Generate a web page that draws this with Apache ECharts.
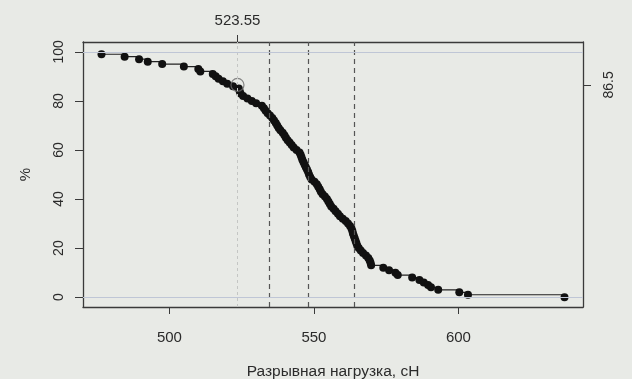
<!DOCTYPE html>
<html lang="ru">
<head>
<meta charset="UTF-8">
<title>Разрывная нагрузка</title>
<script src="https://cdn.jsdelivr.net/npm/echarts@6/dist/echarts.min.js"></script>
<style>
  html, body { margin: 0; padding: 0; background: #e8eae6; }
</style>
</head>
<body>
<div id="main" style="width:632px;height:379px;"></div>
<script type="text/javascript">
// нагрузка (сН) для каждой точки
var loadValues = [
  476.5, 484.5, 489.5, 492.5, 497.5, 505.0, 510.0, 510.7, 515.0, 516.0,
  517.0, 518.5, 520.0, 522.0, 524.0, 524.3, 524.6, 525.5, 527.0, 528.5,
  530.0, 532.0, 532.7, 533.3, 534.0, 534.8, 535.6, 536.2, 536.8, 537.3,
  537.8, 538.4, 539.2, 539.8, 540.3, 540.9, 541.6, 542.3, 543.0, 544.0,
  545.0, 545.4, 545.7, 546.0, 546.4, 546.8, 547.2, 547.6, 548.0, 548.3,
  548.7, 549.2, 550.2, 551.0, 551.5, 552.0, 552.4, 553.0, 553.8, 554.5,
  555.0, 555.5, 556.0, 556.8, 557.5, 558.3, 559.0, 560.0, 561.0, 561.8,
  562.5, 563.0, 563.3, 563.5, 563.8, 564.1, 564.4, 564.7, 565.0, 565.5,
  566.2, 567.0, 568.0, 568.8, 569.3, 569.6, 569.8, 574.0, 576.0, 578.2,
  579.0, 584.0, 586.5, 588.0, 589.5, 590.5, 593.0, 600.3, 603.3, 636.7
];
// % образцов
var pctValues = [
  99, 98, 97, 96, 95, 94, 93, 92, 91, 90,
  89, 88, 87, 86, 85, 84, 83, 82, 81, 80,
  79, 78, 77, 76, 75, 74, 73, 72, 71, 70,
  69, 68, 67, 66, 65, 64, 63, 62, 61, 60,
  59, 58, 57, 56, 55, 54, 53, 52, 51, 50,
  49, 48, 47, 46, 45, 44, 43, 42, 41, 40,
  39, 38, 37, 36, 35, 34, 33, 32, 31, 30,
  29, 28, 27, 26, 25, 24, 23, 22, 21, 20,
  19, 18, 17, 16, 15, 14, 13, 12, 11, 10,
  9, 8, 7, 6, 5, 4, 3, 2, 1, 0
];
var xTicks = [500, 550, 600];
var yTicks = [0, 20, 40, 60, 80, 100];
var markX = [523.55];       // отмеченная точка (верхняя ось)
var markY = [86.5];         // правая ось
var dashX = [534.6, 548.2, 564.0];   // квартили

var myChart = echarts.init(document.getElementById('main'));

var pts = [];
for (var i = 0; i < loadValues.length; i++) {
  pts.push([loadValues[i], pctValues[i]]);
}

var txt = '#2b2b2b';
var axisCol = '#3a3a3a';
var font = 'Liberation Sans, Arial, sans-serif';

var marks = [];
dashX.forEach(function (v) {
  marks.push({ xAxis: v, lineStyle: { color: '#555', type: [5, 4], width: 1.2 } });
});
marks.push({ xAxis: markX[0], lineStyle: { color: '#c4c6c4', type: [3, 3], width: 1 } });
marks.push({ yAxis: 100, lineStyle: { color: '#bfc6d6', type: 'solid', width: 1 } });
marks.push({ yAxis: 0, lineStyle: { color: '#bfc6d6', type: 'solid', width: 1 } });

var option = {
  backgroundColor: '#e8eae6',
  animation: false,
  textStyle: { fontFamily: font },
  grid: { left: 83, right: 49, top: 42, bottom: 72, containLabel: false, outerBoundsMode: 'none' },
  xAxis: [
    {
      type: 'value', position: 'bottom', min: 470.1, max: 643.1,
      name: 'Разрывная нагрузка, сН', nameLocation: 'middle', nameGap: 57,
      nameTextStyle: { color: txt, fontSize: 15.5, fontFamily: font },
      axisLine: { show: true, onZero: false, lineStyle: { color: axisCol, width: 1.3 } },
      axisTick: { show: true, customValues: xTicks, length: 7, lineStyle: { color: axisCol } },
      axisLabel: { customValues: xTicks, color: txt, fontSize: 15, margin: 23, fontFamily: font },
      splitLine: { show: false }
    },
    {
      type: 'value', position: 'top', min: 470.1, max: 643.1,
      axisLine: { show: true, onZero: false, lineStyle: { color: axisCol, width: 1.3 } },
      axisTick: { show: true, customValues: markX, length: 7, lineStyle: { color: axisCol } },
      axisLabel: { customValues: markX, color: txt, fontSize: 15, margin: 14, fontFamily: font },
      splitLine: { show: false }
    }
  ],
  yAxis: [
    {
      type: 'value', position: 'left', min: -4, max: 104,
      name: '%', nameLocation: 'middle', nameGap: 50, nameRotate: 90,
      nameTextStyle: { color: txt, fontSize: 15, fontFamily: font },
      axisLine: { show: true, onZero: false, lineStyle: { color: axisCol, width: 1.3 } },
      axisTick: { show: true, customValues: yTicks, length: 8, lineStyle: { color: axisCol } },
      axisLabel: { customValues: yTicks, rotate: 90, color: txt, fontSize: 14, margin: 17, fontFamily: font },
      splitLine: { show: false }
    },
    {
      type: 'value', position: 'right', min: -4, max: 104,
      axisLine: { show: true, onZero: false, lineStyle: { color: axisCol, width: 1.3 } },
      axisTick: { show: true, customValues: markY, length: 8, lineStyle: { color: axisCol } },
      axisLabel: { customValues: markY, rotate: 90, color: txt, fontSize: 14, margin: 19, fontFamily: font },
      splitLine: { show: false }
    }
  ],
  series: [
    {
      type: 'line',
      step: 'end',
      data: pts,
      symbol: 'circle',
      symbolSize: 8,
      itemStyle: { color: '#111' },
      lineStyle: { color: '#222', width: 1.2 },
      z: 3,
      markLine: {
        silent: true, symbol: 'none', label: { show: false },
        animation: false,
        data: marks
      }
    },
    {
      type: 'scatter',
      data: [[markX[0], markY[0]]],
      symbol: 'circle',
      symbolSize: 13,
      itemStyle: { color: 'rgba(0,0,0,0)', borderColor: '#6a6a6a', borderWidth: 1.2 },
      z: 4
    }
  ]
};

myChart.setOption(option);
</script>
</body>
</html>
